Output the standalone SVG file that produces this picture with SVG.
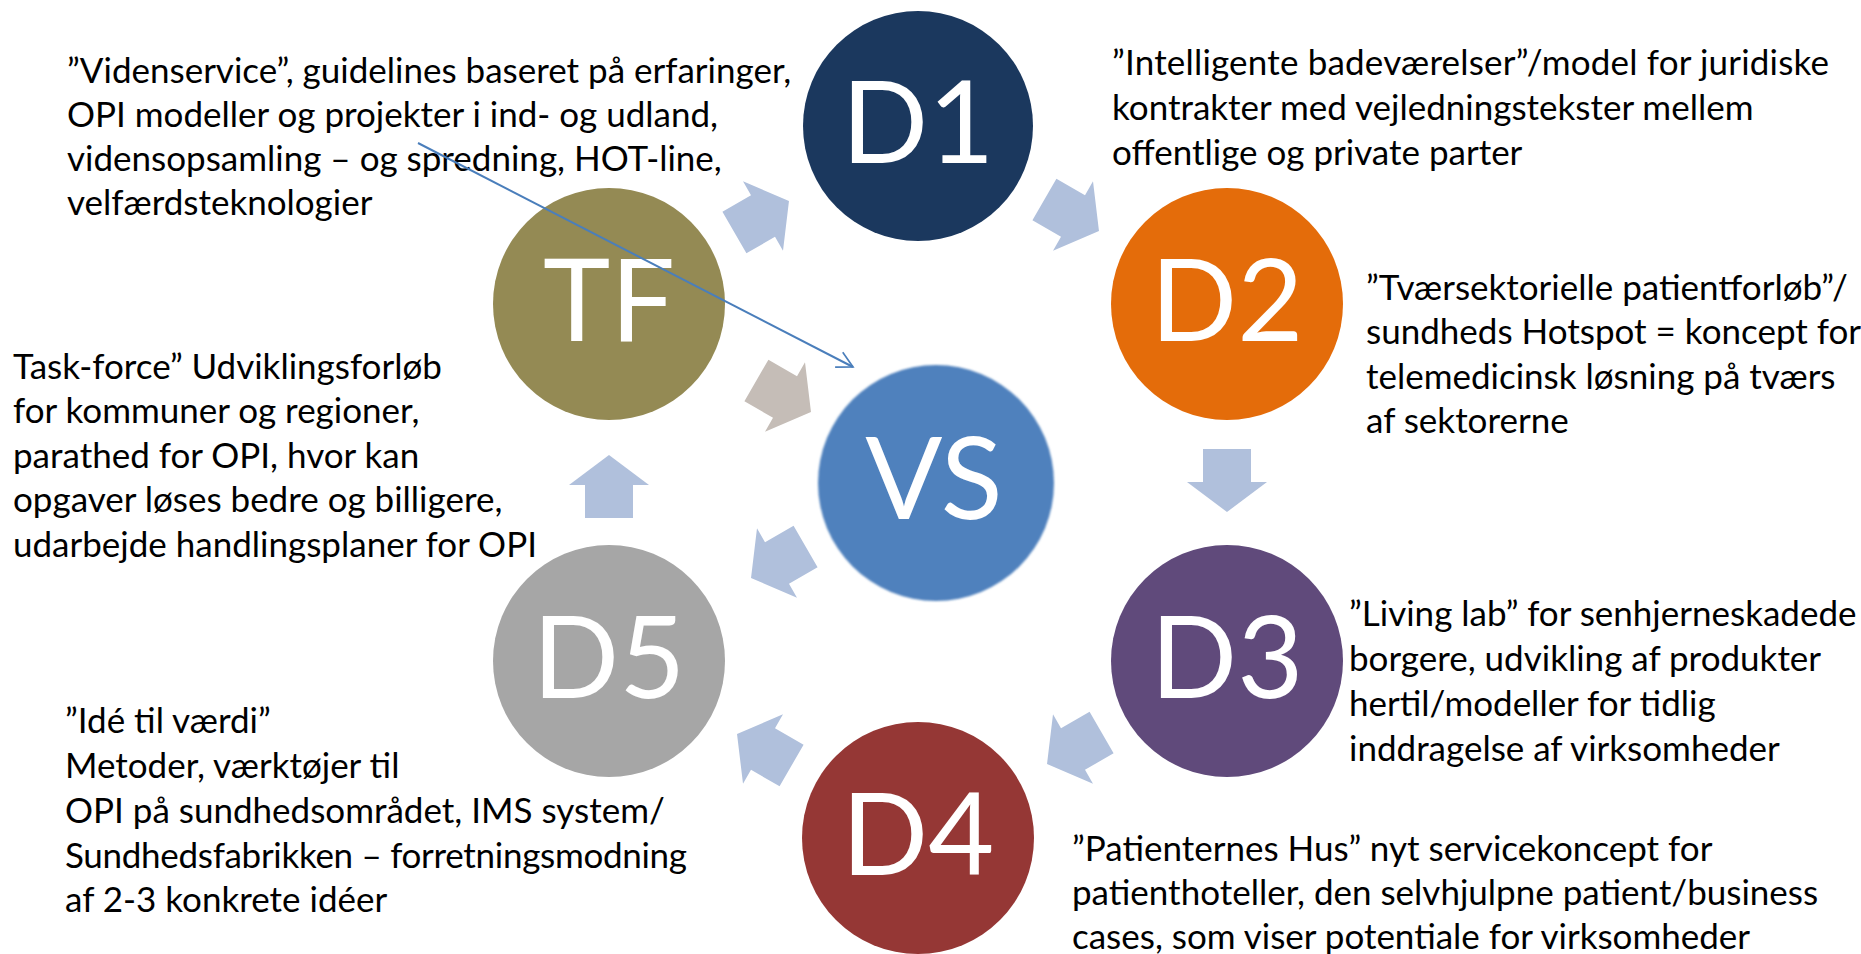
<svg xmlns="http://www.w3.org/2000/svg" width="1861" height="954" viewBox="0 0 1861 954">
<style>
.t{font-family:Lato,"Liberation Sans",sans-serif;font-size:35px;fill:#000}
.lbl{font-family:Lato,"Liberation Sans",sans-serif;font-size:114px;fill:#fff;text-anchor:middle}
.ca{fill:#B0C0DC}
</style>
<defs>
<path id="arr" d="M-33,-24 H0 V-40 L30,0 L0,40 V24 H-33 Z"/>
<marker id="open" viewBox="0 0 12 12" refX="11" refY="6" markerWidth="10" markerHeight="10" markerUnits="userSpaceOnUse" orient="auto" overflow="visible">
<path d="M-8,-4 L11,6 L-8,16" fill="none" stroke="#4A7EBB" stroke-width="2"/>
</marker>
<filter id="soft" x="-10%" y="-10%" width="120%" height="120%"><feGaussianBlur stdDeviation="1.2"/></filter>
</defs>
<rect width="1861" height="954" fill="#fff"/>
<g id="cycle-arrows">
<use href="#arr" class="ca" transform="translate(763,216) rotate(-30)"/>
<use href="#arr" class="ca" transform="translate(1073,216) rotate(30)"/>
<use href="#arr" class="ca" transform="translate(1227,482) rotate(90)"/>
<use href="#arr" class="ca" transform="translate(1073,749) rotate(150)"/>
<use href="#arr" class="ca" transform="translate(763,749) rotate(210)"/>
<use href="#arr" class="ca" transform="translate(609,485) rotate(-90)"/>
<use href="#arr" fill="#C5BDB7" transform="translate(785,397) rotate(30)"/>
<use href="#arr" class="ca" transform="translate(777,563) rotate(150)"/>
</g>
<g id="node-D1"><circle cx="918" cy="126" r="115" fill="#1B385E"/><text class="lbl" x="918" y="163">D1</text></g>
<g id="node-D2"><circle cx="1227" cy="304" r="116" fill="#E46C0A"/><text class="lbl" x="1227" y="341">D2</text></g>
<g id="node-D3"><circle cx="1227" cy="661" r="116" fill="#604A7B"/><text class="lbl" x="1227" y="698">D3</text></g>
<g id="node-D4"><circle cx="918" cy="838" r="116" fill="#953735"/><text class="lbl" x="918" y="875">D4</text></g>
<g id="node-D5"><circle cx="609" cy="661" r="116" fill="#A6A6A6"/><text class="lbl" x="609" y="698">D5</text></g>
<g id="node-TF"><circle cx="609" cy="304" r="116" fill="#948A54"/><text class="lbl" x="609" y="341">TF</text></g>
<g id="node-VS"><circle cx="936" cy="483" r="118" fill="#4F81BD" filter="url(#soft)"/><text class="lbl" x="934" y="519">VS</text></g>
<g id="text-TF-top">
<text class="t" x="67" y="83">”Videnservice”, guidelines baseret på erfaringer,</text>
<text class="t" x="67" y="127">OPI modeller og projekter i ind- og udland,</text>
<text class="t" x="67" y="171">vidensopsamling – og spredning, HOT-line,</text>
<text class="t" x="67" y="215">velfærdsteknologier</text>
</g>
<g id="text-D1">
<text class="t" x="1112" y="75" textLength="717">”Intelligente badeværelser”/model for juridiske</text>
<text class="t" x="1112" y="120">kontrakter med vejledningstekster mellem</text>
<text class="t" x="1112" y="165">offentlige og private parter</text>
</g>
<g id="text-D2">
<text class="t" x="1366" y="300">”Tværsektorielle patientforløb”/</text>
<text class="t" x="1366" y="344">sundheds Hotspot = koncept for</text>
<text class="t" x="1366" y="389">telemedicinsk løsning på tværs</text>
<text class="t" x="1366" y="433">af sektorerne</text>
</g>
<g id="text-TF">
<text class="t" x="13" y="379">Task-force” Udviklingsforløb</text>
<text class="t" x="13" y="423">for kommuner og regioner,</text>
<text class="t" x="13" y="468">parathed for OPI, hvor kan</text>
<text class="t" x="13" y="512">opgaver løses bedre og billigere,</text>
<text class="t" x="13" y="557">udarbejde handlingsplaner for OPI</text>
</g>
<g id="text-D5">
<text class="t" x="65" y="733">”Idé til værdi”</text>
<text class="t" x="65" y="778">Metoder, værktøjer til</text>
<text class="t" x="65" y="823">OPI på sundhedsområdet, IMS system/</text>
<text class="t" x="65" y="868" textLength="622">Sundhedsfabrikken – forretningsmodning</text>
<text class="t" x="65" y="912">af 2-3 konkrete idéer</text>
</g>
<g id="text-D3">
<text class="t" x="1349" y="626">”Living lab” for senhjerneskadede</text>
<text class="t" x="1349" y="671">borgere, udvikling af produkter</text>
<text class="t" x="1349" y="716">hertil/modeller for tidlig</text>
<text class="t" x="1349" y="761">inddragelse af virksomheder</text>
</g>
<g id="text-D4">
<text class="t" x="1072" y="861">”Patienternes Hus” nyt servicekoncept for</text>
<text class="t" x="1072" y="905">patienthoteller, den selvhjulpne patient/business</text>
<text class="t" x="1072" y="949">cases, som viser potentiale for virksomheder</text>
</g>
<g id="connectors">
<line x1="418" y1="143" x2="853" y2="367" stroke="#4A7EBB" stroke-width="2" marker-end="url(#open)"/>
</g>
</svg>
